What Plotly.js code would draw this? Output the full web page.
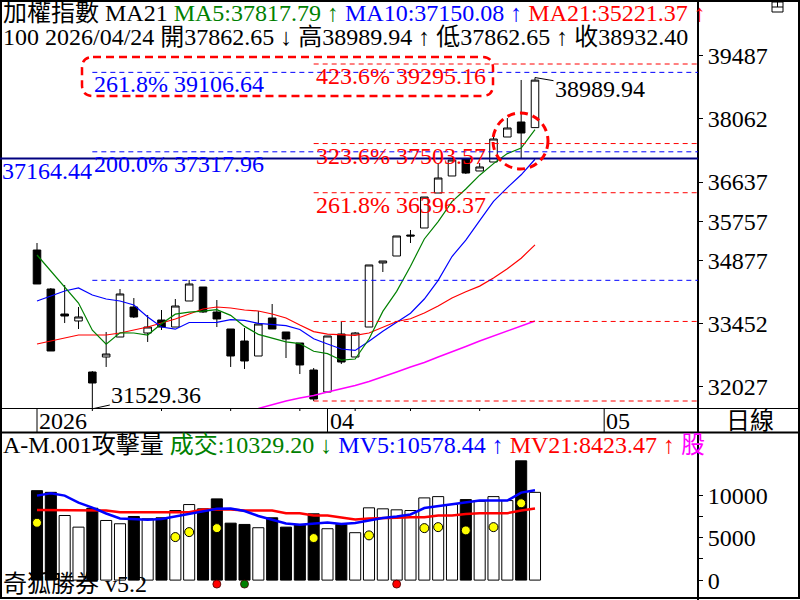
<!DOCTYPE html>
<html>
<head>
<meta charset="utf-8">
<script src="https://cdn.plot.ly/plotly-3.0.1.min.js"></script>
<style>html,body{margin:0;padding:0;background:#fff}#chart{width:800px;height:600px}</style>
</head>
<body>
<div id="chart"></div>
<script>
// ---------------- data ----------------
const dates = ['03/03','03/04','03/05','03/06','03/09','03/10','03/11','03/12','03/13','03/16','03/17','03/18','03/19','03/20',
  '03/23','03/24','03/25','03/26','03/27','03/30','03/31','04/01','04/02','04/07','04/08','04/09','04/10',
  '04/13','04/14','04/15','04/16','04/17','04/20','04/21','04/22','04/23','04/24'];
const openP  = [35106,34228,33665,33508,32359,32697,33147,33823,33237,33530,33372,33958,34273,33710,33327,33057,32719,33575,33260,33012,32404,31909,33215,32697,33372,34814,34971,35444,35602,36390,36773,37156,36886,37088,37651,37989,37862.65];
const highP  = [35264,34250,34318,33823,32380,33260,34228,34025,33643,33755,34003,34431,34273,33980,33327,33350,33733,33890,33260,33012,32449,33170,33485,33260,34769,34859,35422,35557,36300,37066,37133,37156,37066,37741,38079,38935,38989.94];
const lowP   = [34341,32832,33462,33327,31529.36,32472,33147,33575,33035,33305,33372,33958,33688,33372,32472,32427,32719,33327,32674,32314,31705.97,31909,32539,32697,33372,34611,34971,35264,35602,36390,36773,36818,36886,37088,37651,37156,37862.65];
const closeP = [34341,32832,33620,33598,32111,32764,34116,33598,33372,33372,33845,34341,33710,33553,32719,32607,33440,33327,33102,32517,31751,33170,32584,33237,34769,34859,35422,35422,36300,36728,37133,36840,36976,37606,37854,37741,38932.40];
const ma5  = [34994,34634,34251,33913,33300,32985,33242,33237,33192,33444,33661,33706,33728,33764,33634,33386,33206,33129,33039,32999,32827,32773,32625,32652,33102,33724,34174,34742,35354,35746,36197,36480,36791,37052,37277,37403,37817.79];
const ma10 = [33958,34070,34183,34251,34093,34003,33958,33868,33598,33372,33323,33474,33483,33478,33539,33523,33456,33429,33402,33316,33107,32990,32877,32845,33050,33276,33474,33683,34003,34424,34960,35327,35766,36203,36512,36800,37150.08];
const ma21 = [32990,33057,33125,33192,33192,33192,33237,33305,33372,33462,33553,33665,33778,33823,33800,33755,33733,33665,33575,33417,33268,33213,33201,33183,33238,33369,33496,33558,33686,33846,34025,34167,34293,34478,34683,34922,35221.37];
const maLong = [null,null,null,null,null,null,null,null,null,null,null,null,null,null,null,null,
  31537,31627,31706,31773,31830,31909,31976,32055,32145,32246,32359,32472,32573,32697,32809,32933,33057,33170,33282,33395,33508];
const volume = [10530,10331,7605,6236,8459,7020,6634,7488,7220,7336,8190,8892,8389,9559,6704,6552,6166,7336,6236,6552,7804,6049,6552,5581,8506,8389,8272,8190,9676,9828,8892,9477,9278,9828,9360,14040,10329.20];
const volDown = [1,1,0,0,1,0,0,1,0,1,0,0,1,1,1,1,0,1,1,1,1,0,1,0,0,0,0,0,0,0,0,1,0,0,0,1,0];
const mv5  = [9945,10214,9945,9126,8541,7839,7254,7137,7102,7196,7488,7781,8132,8389,8424,8132,7547,7079,6669,6517,6611,6786,6611,6728,7020,7313,7488,7722,8483,8717,8892,9126,9360,9360,9360,10296,10578.44];
const mv21 = [8249,8249,8249,8190,8190,8190,7991,7991,7991,7991,7991,7991,8307,8307,8307,8190,8190,8190,7874,7874,7605,7605,7371,7137,7254,7336,7336,7406,7406,7605,7605,7781,7874,7874,7874,8190,8423.47];
const yellowIdx = [0,10,11,13,20,24,28,29,31,33,35];
const yellowVal = [6751,5066,5651,6119,4949,5265,6119,6236,5850,6236,9044];
const signalIdx = [13,15,26];
const signalVal = [-468,-468,-468];
const signalCol = ['#FF0000','#008000','#FF0000'];

const priceTicks = [39487,38062,36637,35757,34877,33452,32027];
const volTickVals = [0,2500,5000,7500,10000];
const volTickText = ['0','','5000','','10000'];
const xTickIdx  = [0,21,41];
const xTickText = ['2026','04','05'];
const weekTickIdx = [4,9,14,19,23,27,32];

const fibBlueStart = 4;
const fibBlueLevels = [34423.66,37317.96,39106.64];
const fibBlueLabels = [null,'200.0% 37317.96','261.8% 39106.64'];
const fibRedStart = 20;
const fibRedLevels = [31705.97,33497.57,36396.37,37503.57,39295.16];
const fibRedLabels = [null,null,'261.8% 36396.37','323.6% 37503.57','423.6% 39295.16'];
const supportLevel = 37164.44;
const lowMark = {idx:4, val:31529.36};
const highMark = {idx:36, val:38989.94};

// ---------------- layout helpers ----------------
const W = 800, H = 600;
const px = v => v / W;
const py = v => 1 - v / H;
const idx = dates.map((d, i) => i);
const xMin = -2.675, xMax = 47.784;
const plotRight = 698;
const BLUE = '#0000FF', RED = '#FF0000', GREEN = '#008000', MAG = '#FF00FF';
const FONT = 'Liberation Serif, "Noto Sans CJK TC", serif';

const traces = [
  {type:'candlestick', x:idx, open:openP, high:highP, low:lowP, close:closeP, xaxis:'x', yaxis:'y',
   increasing:{line:{color:'#000', width:1}, fillcolor:'#FFFFFF'},
   decreasing:{line:{color:'#000', width:1}, fillcolor:'#000000'},
   whiskerwidth:0, hoverinfo:'skip'},
  {type:'scatter', mode:'lines', x:idx, y:ma21, line:{color:RED, width:1.2}, xaxis:'x', yaxis:'y', hoverinfo:'skip'},
  {type:'scatter', mode:'lines', x:idx, y:maLong, line:{color:MAG, width:1.5}, xaxis:'x', yaxis:'y', hoverinfo:'skip'},
  {type:'scatter', mode:'lines', x:idx, y:ma10, line:{color:BLUE, width:1.2}, xaxis:'x', yaxis:'y', hoverinfo:'skip'},
  {type:'scatter', mode:'lines', x:idx, y:ma5, line:{color:GREEN, width:1.2}, xaxis:'x', yaxis:'y', hoverinfo:'skip'},
  {type:'bar', x:idx, y:volume, width:0.8, xaxis:'x2', yaxis:'y2',
   marker:{color:volDown.map(d => d ? '#000000' : '#FFFFFF'), line:{color:'#000', width:1}}, hoverinfo:'skip'},
  {type:'scatter', mode:'lines', x:idx, y:mv21, line:{color:RED, width:2.5}, xaxis:'x2', yaxis:'y2', hoverinfo:'skip'},
  {type:'scatter', mode:'lines', x:idx, y:mv5, line:{color:BLUE, width:2.5}, xaxis:'x2', yaxis:'y2', hoverinfo:'skip'},
  {type:'scatter', mode:'markers', x:yellowIdx, y:yellowVal, xaxis:'x2', yaxis:'y2',
   marker:{color:'#FFFF00', size:9, line:{color:'#000', width:1}}, hoverinfo:'skip'},
  {type:'scatter', mode:'markers', x:signalIdx, y:signalVal, xaxis:'x2', yaxis:'y2', cliponaxis:false,
   marker:{color:signalCol, size:8, line:{color:'#400', width:0.8}}, hoverinfo:'skip'}
];

const shapes = [];
// frame and dividers
shapes.push({type:'rect', xref:'paper', yref:'paper', x0:px(1), x1:px(799), y0:py(1), y1:py(598), line:{color:'#000', width:2}});
shapes.push({type:'line', xref:'paper', yref:'paper', x0:px(plotRight), x1:px(plotRight), y0:py(0), y1:py(600), line:{color:'#000', width:2}});
shapes.push({type:'line', xref:'paper', yref:'paper', x0:0, x1:1, y0:py(408.5), y1:py(408.5), line:{color:'#000', width:1}});
shapes.push({type:'line', xref:'paper', yref:'paper', x0:0, x1:1, y0:py(432.5), y1:py(432.5), line:{color:'#000', width:2}});
// window icon at top right
shapes.push({type:'rect', xref:'paper', yref:'paper', x0:px(772), x1:px(783), y0:py(2), y1:py(12), line:{color:'#000', width:1}});
shapes.push({type:'line', xref:'paper', yref:'paper', x0:px(772), x1:px(783), y0:py(7), y1:py(7), line:{color:'#000', width:1}});
shapes.push({type:'line', xref:'paper', yref:'paper', x0:px(777.5), x1:px(777.5), y0:py(2), y1:py(7), line:{color:'#000', width:1}});
// x-axis row ticks
xTickIdx.forEach(i => shapes.push({type:'line', xref:'x', yref:'paper', x0:i, x1:i, y0:py(408.5), y1:py(432.5), line:{color:'#000', width:1}}));
weekTickIdx.forEach(i => shapes.push({type:'line', xref:'x', yref:'paper', x0:i, x1:i, y0:py(408.5), y1:py(411), line:{color:'#000', width:1}}));
// fibonacci levels
fibBlueLevels.forEach(v => shapes.push({type:'line', xref:'x', yref:'y', x0:fibBlueStart, x1:xMax, y0:v, y1:v, line:{color:BLUE, width:1, dash:'5px,4px'}}));
fibRedLevels.forEach(v => shapes.push({type:'line', xref:'x', yref:'y', x0:fibRedStart, x1:xMax, y0:v, y1:v, line:{color:RED, width:1, dash:'5px,4px'}}));
shapes.push({type:'line', xref:'x', yref:'y', x0:xMin, x1:xMax, y0:supportLevel, y1:supportLevel, line:{color:'#000080', width:2}});
// dashed highlight circle and rounded box
shapes.push({type:'circle', xref:'paper', yref:'paper', x0:px(493), x1:px(548), y0:py(113), y1:py(169), line:{color:RED, width:3, dash:'8px,5px'}});
(function(){
  const x0 = 82, x1 = 493, y0 = 57, y1 = 96, r = 11;
  const P = (x, y) => px(x) + ',' + py(y);
  const path = 'M' + P(x0 + r, y0) + ' L' + P(x1 - r, y0) + ' Q' + P(x1, y0) + ' ' + P(x1, y0 + r) +
    ' L' + P(x1, y1 - r) + ' Q' + P(x1, y1) + ' ' + P(x1 - r, y1) +
    ' L' + P(x0 + r, y1) + ' Q' + P(x0, y1) + ' ' + P(x0, y1 - r) +
    ' L' + P(x0, y0 + r) + ' Q' + P(x0, y0) + ' ' + P(x0 + r, y0) + ' Z';
  shapes.push({type:'path', xref:'paper', yref:'paper', path:path, line:{color:RED, width:2.5, dash:'8px,5px'}});
})();

const ann = [];
const A = o => ann.push(Object.assign({showarrow:false, font:{family:FONT, size:24, color:'#000'}}, o));
A({xref:'paper', yref:'paper', x:px(1), y:py(13), xanchor:'left', yanchor:'middle',
   text:'加權指數 MA21 <span style="color:' + GREEN + '">MA5:37817.79 ↑ </span><span style="color:' + BLUE + '">MA10:37150.08 ↑ </span><span style="color:' + RED + '">MA21:35221.37 ↑</span>'});
A({xref:'paper', yref:'paper', x:px(1), y:py(37), xanchor:'left', yanchor:'middle',
   text:'100 2026/04/24 開37862.65 ↓ 高38989.94 ↑ 低37862.65 ↑ 收38932.40'});
A({xref:'paper', yref:'paper', x:px(1), y:py(445), xanchor:'left', yanchor:'middle',
   text:'A-M.001攻擊量 <span style="color:' + GREEN + '">成交:10329.20 ↓ </span><span style="color:' + BLUE + '">MV5:10578.44 ↑ </span><span style="color:' + RED + '">MV21:8423.47 ↑ </span><span style="color:' + MAG + '">股</span>'});
A({xref:'paper', yref:'paper', x:px(1), y:py(584), xanchor:'left', yanchor:'middle', text:'奇狐勝券 v5.2'});
A({xref:'paper', yref:'paper', x:px(750), y:py(421), xanchor:'center', yanchor:'middle', text:'日線'});
xTickIdx.forEach((i, k) => A({xref:'x', yref:'paper', x:i, y:py(421), xanchor:'left', yanchor:'middle', xshift:0, text:xTickText[k]}));
fibBlueLevels.forEach((v, k) => { if (fibBlueLabels[k]) A({xref:'x', yref:'y', x:fibBlueStart, y:v, xanchor:'left', yanchor:'top', yshift:3, text:fibBlueLabels[k], font:{family:FONT, size:24, color:BLUE}}); });
fibRedLevels.forEach((v, k) => { if (fibRedLabels[k]) A({xref:'x', yref:'y', x:fibRedStart, y:v, xanchor:'left', yanchor:'top', yshift:3, text:fibRedLabels[k], font:{family:FONT, size:24, color:RED}}); });
A({xref:'paper', yref:'y', x:0, y:supportLevel, xanchor:'left', yanchor:'top', yshift:3, text:supportLevel.toFixed(2), font:{family:FONT, size:24, color:BLUE}});
ann.push({xref:'x', yref:'y', x:lowMark.idx, y:lowMark.val, text:lowMark.val.toFixed(2), showarrow:true, arrowhead:0, arrowwidth:1, arrowcolor:'#000',
  ax:64, ay:-14, standoff:0, font:{family:FONT, size:24, color:'#000'}});
ann.push({xref:'x', yref:'y', x:highMark.idx, y:highMark.val, text:highMark.val.toFixed(2), showarrow:true, arrowhead:0, arrowwidth:1, arrowcolor:'#000',
  ax:65, ay:11, standoff:0, font:{family:FONT, size:24, color:'#000'}});

const layout = {
  width:W, height:H, margin:{l:0, r:0, t:0, b:0},
  paper_bgcolor:'#FFFFFF', plot_bgcolor:'#FFFFFF', showlegend:false, boxgap:0.22,
  font:{family:FONT, size:24, color:'#000'},
  xaxis:{domain:[0, plotRight / W], range:[xMin, xMax], anchor:'y', showticklabels:false, ticks:'', showgrid:false, zeroline:false, showline:false, rangeslider:{visible:false}, fixedrange:true},
  yaxis:{domain:[py(409), 1], range:[31525.7, 40736.4], anchor:'x', side:'right', tickvals:priceTicks, ticktext:priceTicks.map(String),
         ticks:'outside', ticklen:4, tickcolor:'#000', showgrid:false, zeroline:false, showline:false, tickfont:{family:FONT, size:24}, fixedrange:true},
  xaxis2:{domain:[0, plotRight / W], range:[xMin, xMax], anchor:'y2', showticklabels:false, ticks:'', showgrid:false, zeroline:false, showline:false, fixedrange:true},
  yaxis2:{domain:[py(597), py(433)], range:[-1989, 17316], anchor:'x2', side:'right', tickvals:volTickVals, ticktext:volTickText,
          ticks:'outside', ticklen:4, tickcolor:'#000', showgrid:false, zeroline:false, showline:false, tickfont:{family:FONT, size:24}, fixedrange:true},
  shapes:shapes, annotations:ann
};

Plotly.newPlot('chart', traces, layout, {staticPlot:true, displayModeBar:false});
</script>
</body>
</html>
